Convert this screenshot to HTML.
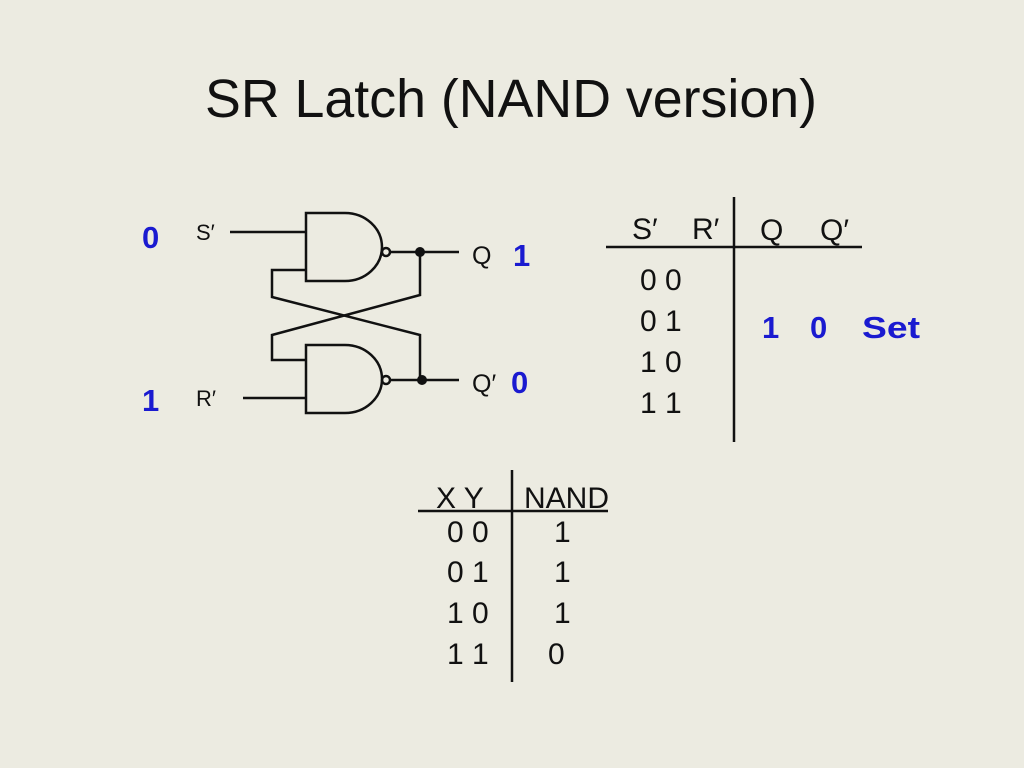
<!DOCTYPE html>
<html><head><meta charset="utf-8"><style>
html,body{margin:0;padding:0;background:#ecebe1;}
svg{display:block}
</style></head><body>
<svg width="1024" height="768" viewBox="0 0 1024 768" xmlns="http://www.w3.org/2000/svg">
<rect width="1024" height="768" fill="#ecebe1"/>
<text x="511" y="117" text-anchor="middle" font-family="Liberation Sans, sans-serif" font-size="54" textLength="612" lengthAdjust="spacingAndGlyphs" fill="#111">SR Latch (NAND version)</text>
<g stroke="#111" stroke-width="2.5" fill="none">
<path d="M306,213 H345 A37,34 0 0 1 345,281 H306 Z"/>
<circle cx="386" cy="252" r="4"/>
<path d="M390,252 H459"/>
<path d="M230,232 H306"/>
<path d="M306,270 H272 V297 L420,335 V380"/>
<path d="M420,252 V295 L272,335 V360 H306"/>
<path d="M306,345 H345 A37,34 0 0 1 345,413 H306 Z"/>
<circle cx="386" cy="380" r="4"/>
<path d="M390,380 H459"/>
<path d="M243,398 H306"/>
<path d="M734,197 V442"/>
<path d="M606,247 H862"/>
<path d="M512,470 V682"/>
<path d="M418,511 H608"/>
</g>
<circle cx="420" cy="252" r="5" fill="#111"/>
<circle cx="422" cy="380" r="5" fill="#111"/>
<g font-family="Liberation Sans, sans-serif" fill="#111">
<text x="196" y="240" font-size="22">S′</text>
<text x="196" y="406" font-size="22">R′</text>
<text x="472" y="264" font-size="25">Q</text>
<text x="472" y="392" font-size="25">Q′</text>
<g font-size="30">
<text x="632" y="239">S′</text><text x="692" y="239">R′</text>
<text x="760" y="240">Q</text><text x="820" y="240">Q′</text>
<text x="640" y="290">0  0</text>
<text x="640" y="331">0  1</text>
<text x="640" y="372">1  0</text>
<text x="640" y="413">1  1</text>
<text x="436" y="508">X  Y</text><text x="524" y="508">NAND</text>
<text x="447" y="542">0 0</text><text x="554" y="542">1</text>
<text x="447" y="582">0 1</text><text x="554" y="582">1</text>
<text x="447" y="623">1 0</text><text x="554" y="623">1</text>
<text x="447" y="664">1 1</text><text x="548" y="664">0</text>
</g>
</g>
<g font-family="Liberation Sans, sans-serif" font-weight="bold" fill="#1a1ad0" font-size="31">
<text x="142" y="248">0</text>
<text x="142" y="411">1</text>
<text x="513" y="266">1</text>
<text x="511" y="393">0</text>
<text x="762" y="338">1</text>
<text x="810" y="338">0</text>
<text x="862" y="338" textLength="58" lengthAdjust="spacingAndGlyphs">Set</text>
</g>
</svg>
</body></html>
